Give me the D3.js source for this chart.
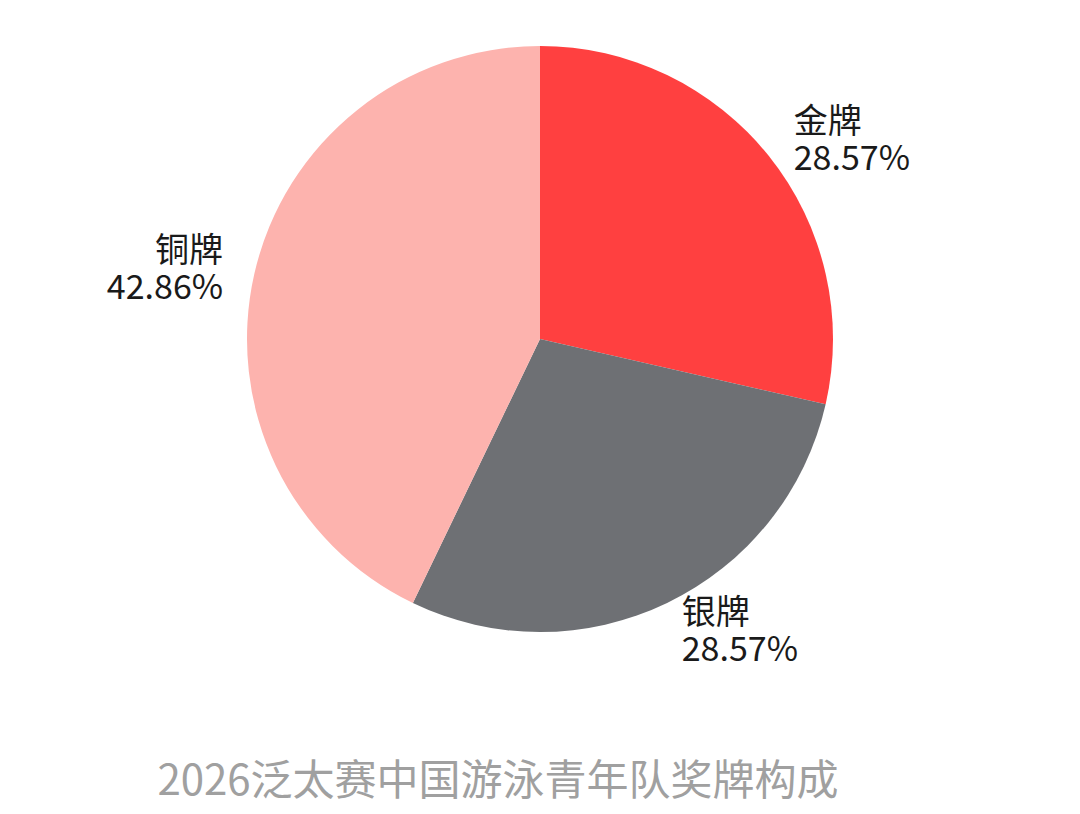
<!DOCTYPE html>
<html><head><meta charset="utf-8">
<script src="https://cdn.jsdelivr.net/npm/d3@7"></script>
<style>html,body{margin:0;padding:0;background:#fff;}svg{display:block;}</style>
</head><body>
<svg id="c" width="1080" height="814"></svg>
<script>
const categories = ["金牌", "银牌", "铜牌"];
const values = [2, 2, 3];
const colors = ["#FF4040", "#6E7074", "#FDB3AE"];
const title = "2026泛太赛中国游泳青年队奖牌构成";

const svg = d3.select("#c");
const cx = 540, cy = 339, R = 293, LR = 322;
const font = "'Noto Sans CJK SC','Noto Sans',sans-serif";
const data = categories.map((c, i) => ({name: c, value: values[i], color: colors[i]}));
const total = d3.sum(values);
const pie = d3.pie().value(d => d.value).sort(null);
const arc = d3.arc().innerRadius(0).outerRadius(R);
const arcs = pie(data);
const g = svg.append("g").attr("transform", `translate(${cx},${cy})`);
g.selectAll("path").data(arcs).join("path").attr("d", arc).attr("fill", d => d.data.color);

arcs.forEach(d => {
  const a = (d.startAngle + d.endAngle) / 2;
  const x = Math.sin(a) * LR, y = -Math.cos(a) * LR;
  const right = Math.sin(a) >= 0;
  const xx = x + (right ? 2 : -3);
  const lines = [d.data.name, (d.data.value / total * 100).toFixed(2) + "%"];
  const offs = [-5, 32];
  lines.forEach((s, k) => {
    g.append("text").attr("x", xx).attr("y", y + offs[k])
      .attr("text-anchor", right ? "start" : "end")
      .attr("font-family", font).attr("font-size", 34).attr("fill", "#1a1a1a").text(s);
  });
});

svg.append("text").attr("x", 498).attr("y", 795).attr("text-anchor", "middle")
  .attr("font-family", font).attr("font-size", 42).attr("fill", "#A0A0A0").text(title);
</script>
</body></html>
